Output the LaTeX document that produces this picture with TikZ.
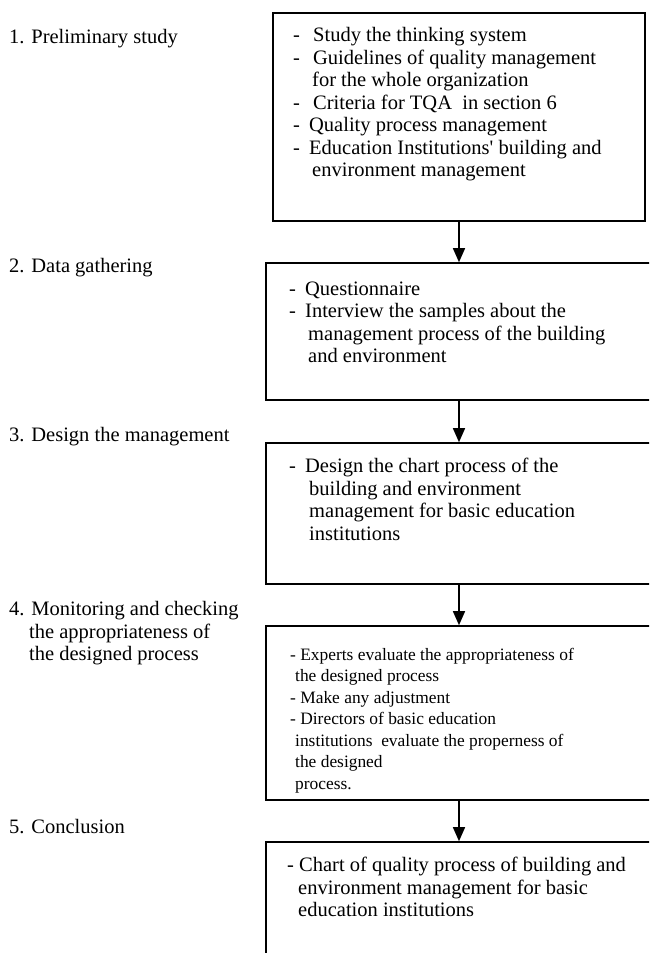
\documentclass[tikz,border=0pt]{standalone}
\usepackage{fontspec}
\setmainfont{Liberation Serif}
\usetikzlibrary{arrows.meta}

\newcommand{\bul}[1]{\makebox[#1][l]{-}}

\begin{document}
\begin{tikzpicture}[x=1pt, y=-1pt,
		stage/.style={draw, line width=1.6pt, minimum width=386pt},
		note/.style={anchor=north west, inner sep=0pt, align=left, font=\fontsize{20.5}{22.5}\selectfont, execute at begin node=\strut},
		arr/.style={line width=1.5pt, -{Triangle[width=12pt,length=14pt]}}]
	\useasboundingbox (0,0) rectangle (649,953);
	\clip (0,0) rectangle (649,953);
	
	% boxes of the process
	\node[stage, minimum width=372pt, minimum height=208pt] (box1) at (459,117) {};
	\node[stage, minimum height=137pt] (box2) at (459,331.5) {};
	\node[stage, minimum height=141pt] (box3) at (459,513.5) {};
	\node[stage, minimum height=174pt] (box4) at (459,713) {};
	\node[stage, minimum height=140pt] (box5) at (459,912) {};
	
	\foreach \a/\b in {box1/box2, box2/box3, box3/box4, box4/box5}
	{
		\draw[arr] (\a.south) -- (\b.north);
	}
	
	% steps on the left
	\node[note] (lab1) at (9,27.25) {1. Preliminary study};
	\node[note] (lab2) at (9,256.25) {2. Data gathering};
	\node[note] (lab3) at (9,425.25) {3. Design the management};
	\node[note] (lab4) at (9,601.25) {4. Monitoring and checking\\\hspace*{20pt}the appropriateness of\\\hspace*{20pt}the designed process};
	\node[note] (lab5) at (9,817.25) {5. Conclusion};
	
	% texts in the boxes
	\node[note] (txt1) at (293,27.25) {\bul{20pt}Study the thinking system\\\bul{20pt}Guidelines of quality management\\\hspace*{19pt}for the whole organization\\\bul{20pt}Criteria for TQA\ \ in section 6\\\bul{16pt}Quality process management\\\bul{16pt}Education Institutions\textquotesingle{} building and\\\hspace*{19pt}environment management};
	\node[note] (txt2) at (289,281.25) {\bul{16pt}Questionnaire\\\bul{16pt}Interview the samples about the\\\hspace*{19pt}management process of the building\\\hspace*{19pt}and environment};
	\node[note] (txt3) at (289,458.25) {\bul{16pt}Design the chart process of the\\\hspace*{20pt}building and environment\\\hspace*{20pt}management for basic education\\\hspace*{20pt}institutions};
	\node[note, font=\fontsize{17.4}{21.5}\selectfont] (txt4) at (290,647.95) {- Experts evaluate the appropriateness of\\\hspace*{5pt}the designed process\\- Make any adjustment\\- Directors of basic education\\\hspace*{5pt}institutions\ \ evaluate the properness of\\\hspace*{5pt}the designed\\\hspace*{5pt}process.};
	\node[note] (txt5) at (287,857.25) {- Chart of quality process of building and\\\hspace*{11pt}environment management for basic\\\hspace*{11pt}education institutions};
\end{tikzpicture}
\end{document}
